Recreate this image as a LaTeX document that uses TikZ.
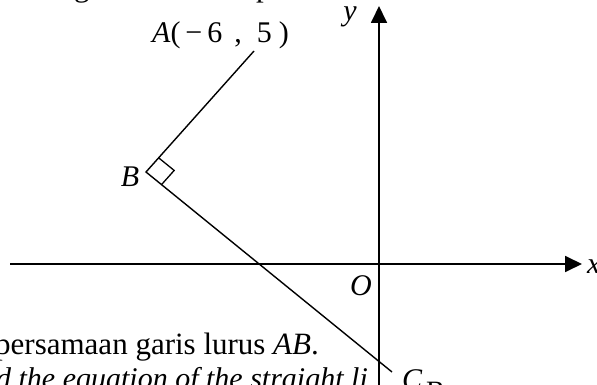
\documentclass[tikz,border=0pt]{standalone}
\usepackage{fontspec}
\setmainfont{Liberation Serif}
\usepackage{tikz}
\usetikzlibrary{arrows.meta,calc}

\begin{document}
\begin{tikzpicture}[
  x=1pt,y=-1pt,
  font=\fontsize{31}{36}\selectfont,
  lbl/.style={font=\fontsize{30}{34}\selectfont\itshape,inner sep=0pt},
  txt/.style={inner sep=0pt,anchor=base west},
  axis/.style={line width=1.8pt,->},
  seg/.style={line width=1.4pt},
  >={Triangle[length=17pt,width=16pt]}]
  \useasboundingbox (0,0) rectangle (597,385);
  \clip (0,0) rectangle (597,385);
  % points
  \coordinate (B) at (146,172);
  \coordinate (A) at (254,51);
  \coordinate (C) at (392,372);
  \coordinate (xl) at (10,264);
  \coordinate (xr) at (582,264);
  \coordinate (yb) at (379,395);
  \coordinate (yt) at (379,6);
  % axes
  \draw[axis] (xl) -- (xr);
  \draw[axis] (yb) -- (yt);
  % lines AB and BC
  \draw[seg] (A) -- (B) -- (C);
  % right angle at B
  \coordinate (ra) at ($(B)!19pt!(A)$);
  \coordinate (rc) at ($(B)!20pt!(C)$);
  \draw[line width=1.3pt] (ra) -- ($(ra)+(rc)-(B)$) -- (rc);
  % labels
  \node[lbl,anchor=base west] (alab) at (152,43)
    {A\upshape(\hspace{5pt}−\hspace{5pt}6\hspace{12pt},\hspace{15pt}5\hspace{7pt})};
  \node[lbl,anchor=base] (blab) at (130,186) {B};
  \node[lbl,anchor=base] (ylab) at (350,21) {y};
  \node[lbl,anchor=base] (olab) at (361,295) {O};
  \node[lbl,anchor=base west] (xlab) at (587,273) {x};
  \node[lbl,anchor=base west] (clab) at (402,389) {C};
  \node[lbl,anchor=base west,font=\fontsize{28}{32}\selectfont] (bfrag) at (426,400) {B};
  % text around the figure
  \node[txt] (gfrag) at (74,-3) {g};
  \node[txt] (pfrag) at (256,-3) {p};
  \node[txt] (ms) at (-5,354) {persamaan garis lurus \textit{AB}.};
  \node[txt,anchor=base east,font=\fontsize{30}{35}\selectfont\itshape] (en) at (368,388) {d the equation of the straight li};
\end{tikzpicture}
\end{document}
